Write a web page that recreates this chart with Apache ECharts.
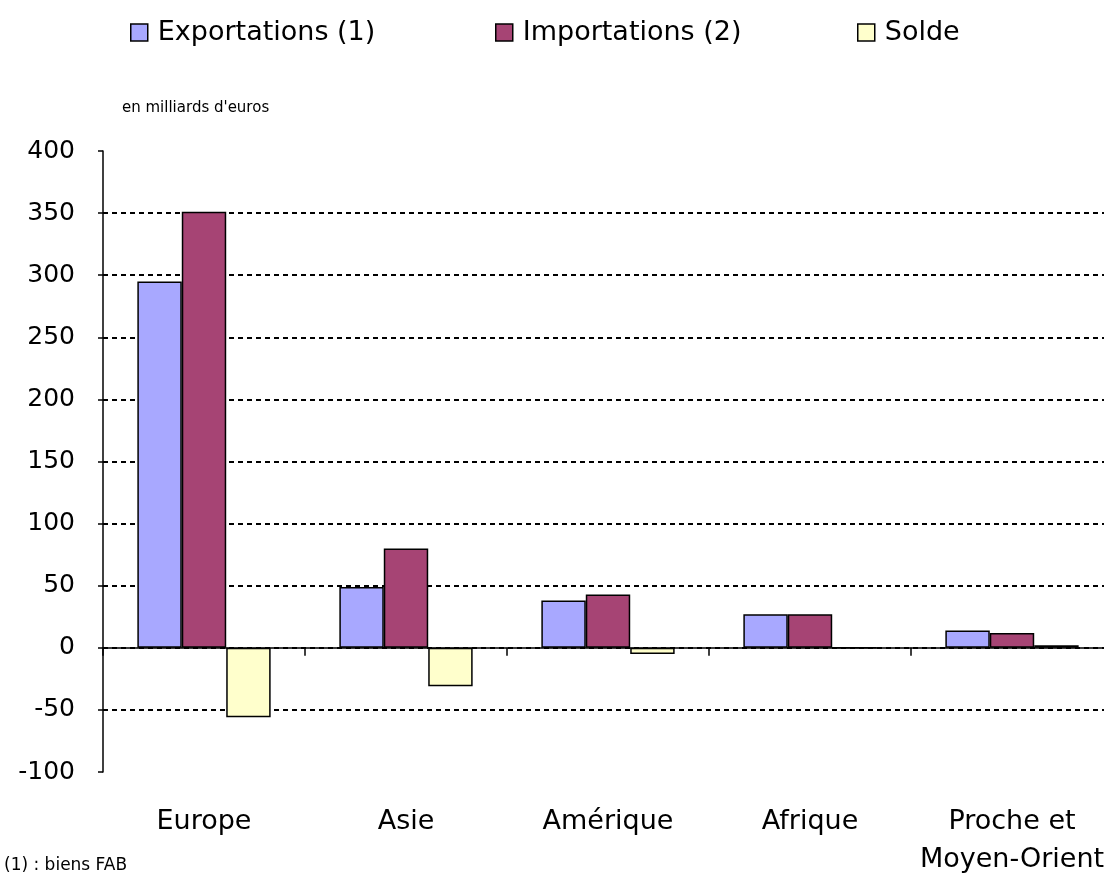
<!DOCTYPE html>
<html>
<head>
<meta charset="utf-8">
<script src="https://cdn.jsdelivr.net/npm/echarts@6/dist/echarts.min.js"></script>
<style>
html,body{margin:0;padding:0;background:#fff;}
#chart{width:1104px;height:875px;}
</style>
</head>
<body>
<div id="chart"></div>
<script>
const categories = ['Europe', 'Asie', 'Amérique', 'Afrique', 'Proche et\nMoyen-Orient'];
const exportations = [295, 49, 38, 27, 14];
const importations = [351, 80, 43, 27, 12];
const solde = [-56, -31, -5, 0, 2];
const yTicks = { min: -100, max: 400, interval: 50 };
const seriesNames = ['Exportations (1)', 'Importations (2)', 'Solde'];
const colors = ['#a8a8ff', '#a64474', '#ffffcc'];

const font = 'DejaVu Sans, Verdana, sans-serif';
const chart = echarts.init(document.getElementById('chart'));

function legendAt(name, left) {
  return {
    data: [name], left: left, top: 19, padding: 0,
    itemWidth: 17, itemHeight: 17, icon: 'rect',
    itemStyle: { borderColor: '#000', borderWidth: 1.5 },
    textStyle: { fontFamily: font, fontSize: 27, color: '#000', padding: [0, 0, 0, 5] }
  };
}

const option = {
  animation: false,
  backgroundColor: '#fff',
  title: [
    { text: "en milliards d'euros", left: 122, top: 101, padding: 0,
      textStyle: { fontFamily: font, fontSize: 15, fontWeight: 'normal', color: '#000' } },
    { text: '(1) : biens FAB', left: 4, top: 857, padding: 0,
      textStyle: { fontFamily: font, fontSize: 17, fontWeight: 'normal', color: '#000' } }
  ],
  legend: [
    legendAt(seriesNames[0], 130),
    legendAt(seriesNames[1], 495),
    legendAt(seriesNames[2], 857)
  ],
  grid: { left: 103, width: 1010, top: 151, bottom: 103, outerBoundsMode: 'none', containLabel: false },
  xAxis: [
    { type: 'category', data: categories, position: 'bottom',
      axisLine: { show: false, onZero: false }, axisTick: { show: false },
      axisLabel: { interval: 0, margin: 31, fontFamily: font, fontSize: 27, color: '#000', lineHeight: 38 } },
    { type: 'category', data: categories, position: 'bottom',
      axisLine: { show: true, onZero: true, lineStyle: { color: '#000', width: 1.5 } },
      axisTick: { show: true, interval: 0, length: 8, lineStyle: { color: '#000', width: 1.5 } },
      axisLabel: { show: false } }
  ],
  yAxis: {
    type: 'value', min: yTicks.min, max: yTicks.max, interval: yTicks.interval,
    axisLine: { show: true, lineStyle: { color: '#000', width: 1.5 } },
    axisTick: { show: true, length: 5, lineStyle: { color: '#000', width: 1.5 } },
    axisLabel: { margin: 28, fontFamily: font, fontSize: 25, color: '#000' },
    splitLine: { show: true, showMinLine: false, showMaxLine: false,
      lineStyle: { color: '#000', width: 2, type: [5, 4] } }
  },
  series: [
    { name: seriesNames[0], type: 'bar', data: exportations, xAxisIndex: 0,
      barGap: '0%', barCategoryGap: '34%',
      itemStyle: { color: colors[0], borderColor: '#000', borderWidth: 1.5 } },
    { name: seriesNames[1], type: 'bar', data: importations, xAxisIndex: 0,
      itemStyle: { color: colors[1], borderColor: '#000', borderWidth: 1.5 } },
    { name: seriesNames[2], type: 'bar', data: solde, xAxisIndex: 0,
      itemStyle: { color: colors[2], borderColor: '#000', borderWidth: 1.5 } }
  ]
};
chart.setOption(option);
</script>
</body>
</html>
